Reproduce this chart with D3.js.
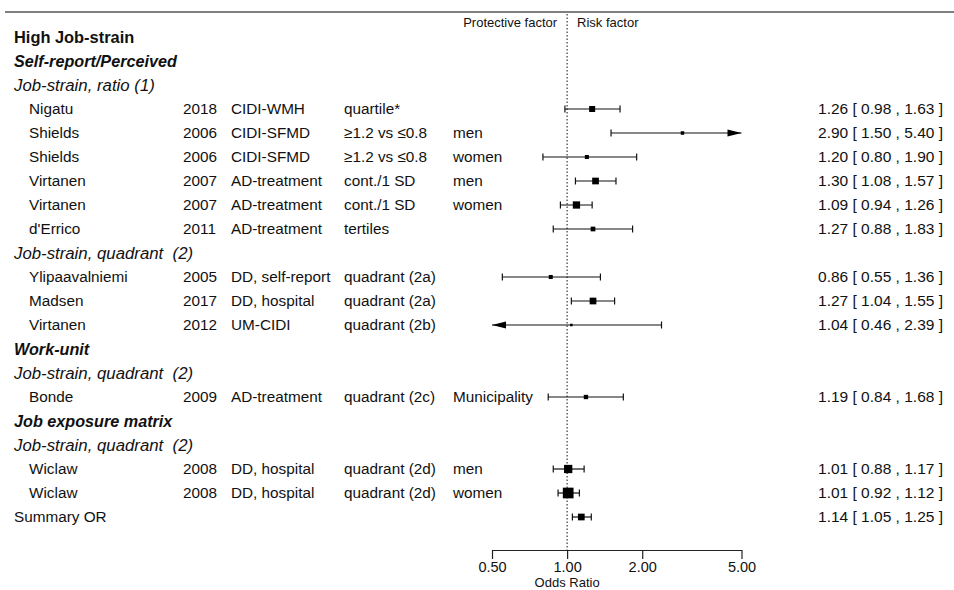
<!DOCTYPE html>
<html>
<head>
<meta charset="utf-8">
<script src="https://cdn.jsdelivr.net/npm/d3@7"></script>
<style>
  body { margin: 0; background: #fff; }
  text { font-family: "Liberation Sans", Arial, sans-serif; fill: #111; white-space: pre; }
</style>
</head>
<body>
<script>
// rows top to bottom
const rowLabel = ["High Job-strain", "Self-report/Perceived", "Job-strain, ratio (1)",
  "Nigatu", "Shields", "Shields", "Virtanen", "Virtanen", "d'Errico",
  "Job-strain, quadrant  (2)", "Ylipaavalniemi", "Madsen", "Virtanen",
  "Work-unit", "Job-strain, quadrant  (2)", "Bonde",
  "Job exposure matrix", "Job-strain, quadrant  (2)", "Wiclaw", "Wiclaw",
  "Summary OR"];
const rowKind = ["title", "group", "sub",
  "study", "study", "study", "study", "study", "study",
  "sub", "study", "study", "study",
  "group", "sub", "study",
  "group", "sub", "study", "study",
  "summary"];
const year = ["", "", "", "2018", "2006", "2006", "2007", "2007", "2011",
  "", "2005", "2017", "2012", "", "", "2009", "", "", "2008", "2008", ""];
const outcome = ["", "", "", "CIDI-WMH", "CIDI-SFMD", "CIDI-SFMD", "AD-treatment", "AD-treatment", "AD-treatment",
  "", "DD, self-report", "DD, hospital", "UM-CIDI", "", "", "AD-treatment",
  "", "", "DD, hospital", "DD, hospital", ""];
const exposure = ["", "", "", "quartile*", "≥1.2 vs ≤0.8", "≥1.2 vs ≤0.8", "cont./1 SD", "cont./1 SD", "tertiles",
  "", "quadrant (2a)", "quadrant (2a)", "quadrant (2b)", "", "", "quadrant (2c)",
  "", "", "quadrant (2d)", "quadrant (2d)", ""];
const subgroup = ["", "", "", "", "men", "women", "men", "women", "",
  "", "", "", "", "", "", "Municipality", "", "", "men", "women", ""];
const oddsRatio = [null, null, null, 1.26, 2.90, 1.20, 1.30, 1.09, 1.27,
  null, 0.86, 1.27, 1.04, null, null, 1.19, null, null, 1.01, 1.01, 1.14];
const lower = [null, null, null, 0.98, 1.50, 0.80, 1.08, 0.94, 0.88,
  null, 0.55, 1.04, 0.46, null, null, 0.84, null, null, 0.88, 0.92, 1.05];
const upper = [null, null, null, 1.63, 5.40, 1.90, 1.57, 1.26, 1.83,
  null, 1.36, 1.55, 2.39, null, null, 1.68, null, null, 1.17, 1.12, 1.25];
const weight = [null, null, null, 4.4, 1.5, 2.0, 5.5, 6.5, 2.7,
  null, 2.0, 5.5, 0.8, null, null, 2.3, null, null, 8.4, 14, 5.5];
const orTicks = [0.5, 1, 2, 5];

const width = 954, height = 590;
const svg = d3.select('body').append('svg')
  .attr('width', width)
  .attr('height', height);

const rows = rowLabel.map((d, i) => ({
  label: d, kind: rowKind[i], year: year[i], outcome: outcome[i],
  exposure: exposure[i], subgroup: subgroup[i],
  or: oddsRatio[i], lo: lower[i], hi: upper[i], w: weight[i]
}));

// scales
const y = d3.scalePoint()
  .domain(d3.range(rows.length))
  .range([37, 517]);
const x = d3.scaleLog()
  .domain([0.5, 5])
  .range([492, 741.5]);
const box = d3.scaleSqrt()
  .domain([0, d3.max(weight)])
  .range([0, 10.7]);
const fmt = d3.format('.2f');
const axisY = 550;

// label font per row kind
const labelSize = { title: '16.4px', group: '16.2px', sub: '16.8px', study: '15.3px', summary: '15.3px' };

// top rule
svg.append('line')
  .attr('x1', 5).attr('x2', width)
  .attr('y1', 12).attr('y2', 12)
  .attr('stroke', '#555').attr('stroke-width', 1.5);

// reference line at OR = 1
svg.append('line')
  .attr('x1', x(1)).attr('x2', x(1))
  .attr('y1', 14).attr('y2', axisY)
  .attr('stroke', '#111')
  .attr('stroke-dasharray', '1.5,2');

svg.append('text')
  .attr('x', x(1) - 10).attr('y', 26.5)
  .attr('text-anchor', 'end')
  .style('font-size', '13px')
  .text('Protective factor');
svg.append('text')
  .attr('x', x(1) + 10).attr('y', 26.5)
  .style('font-size', '13px')
  .text('Risk factor');

// left text columns
const row = svg.append('g').selectAll('g')
  .data(rows)
  .join('g')
  .attr('transform', (d, i) => `translate(0,${y(i)})`)
  .style('font-size', '15.3px');

row.append('text')
  .attr('x', d => d.kind === 'study' ? 29 : 14)
  .attr('dy', '0.35em')
  .style('font-size', d => labelSize[d.kind])
  .style('font-weight', d => (d.kind === 'title' || d.kind === 'group') ? 'bold' : 'normal')
  .style('font-style', d => (d.kind === 'group' || d.kind === 'sub') ? 'italic' : 'normal')
  .text(d => d.label);

const cols = [['year', 183], ['outcome', 231], ['exposure', 344], ['subgroup', 453]];
cols.forEach(([key, cx]) => {
  row.append('text')
    .attr('x', cx)
    .attr('dy', '0.35em')
    .text(d => d[key]);
});

// estimates
const est = row.filter(d => d.or !== null);

est.append('text')
  .attr('x', 943)
  .attr('dy', '0.35em')
  .attr('text-anchor', 'end')
  .style('font-size', '15.5px')
  .text(d => `${fmt(d.or)} [ ${fmt(d.lo)} , ${fmt(d.hi)} ]`);

const [xmin, xmax] = x.domain();
const capH = 3.5, arrowL = 14, arrowH = 3.5;

est.append('line')
  .attr('x1', d => x(Math.max(d.lo, xmin)))
  .attr('x2', d => x(Math.min(d.hi, xmax)))
  .attr('stroke', '#111').attr('stroke-width', 1.2);

// whisker caps (only where the interval fits on the scale)
est.filter(d => d.lo >= xmin).append('line')
  .attr('x1', d => x(d.lo)).attr('x2', d => x(d.lo))
  .attr('y1', -capH).attr('y2', capH)
  .attr('stroke', '#111').attr('stroke-width', 1.2);
est.filter(d => d.hi <= xmax).append('line')
  .attr('x1', d => x(d.hi)).attr('x2', d => x(d.hi))
  .attr('y1', -capH).attr('y2', capH)
  .attr('stroke', '#111').attr('stroke-width', 1.2);

// arrows for truncated intervals
est.filter(d => d.hi > xmax).append('path')
  .attr('d', () => {
    const t = x(xmax);
    return `M${t},0L${t - arrowL},${-arrowH}L${t - arrowL},${arrowH}Z`;
  })
  .attr('fill', '#000');
est.filter(d => d.lo < xmin).append('path')
  .attr('d', () => {
    const t = x(xmin);
    return `M${t},0L${t + arrowL},${-arrowH}L${t + arrowL},${arrowH}Z`;
  })
  .attr('fill', '#000');

// point estimate boxes
est.append('rect')
  .attr('x', d => x(d.or) - box(d.w) / 2)
  .attr('y', d => -box(d.w) / 2)
  .attr('width', d => box(d.w))
  .attr('height', d => box(d.w))
  .attr('fill', '#000');

// x axis
svg.append('g')
  .attr('transform', `translate(0,${axisY})`)
  .call(d3.axisBottom(x)
    .tickValues(orTicks)
    .tickFormat(fmt)
    .tickSize(9)
    .tickSizeOuter(0)
    .tickPadding(2.5))
  .call(g => g.select('.domain').attr('stroke', '#222').attr('stroke-width', 1.2))
  .call(g => g.selectAll('.tick line').attr('stroke', '#222').attr('stroke-width', 1.2))
  .call(g => g.selectAll('text')
    .style('font-family', '"Liberation Sans", Arial, sans-serif')
    .style('font-size', '14.5px')
    .attr('fill', '#111'));

svg.append('text')
  .attr('x', x(1)).attr('y', 587)
  .attr('text-anchor', 'middle')
  .style('font-size', '13px')
  .text('Odds Ratio');
</script>
</body>
</html>
